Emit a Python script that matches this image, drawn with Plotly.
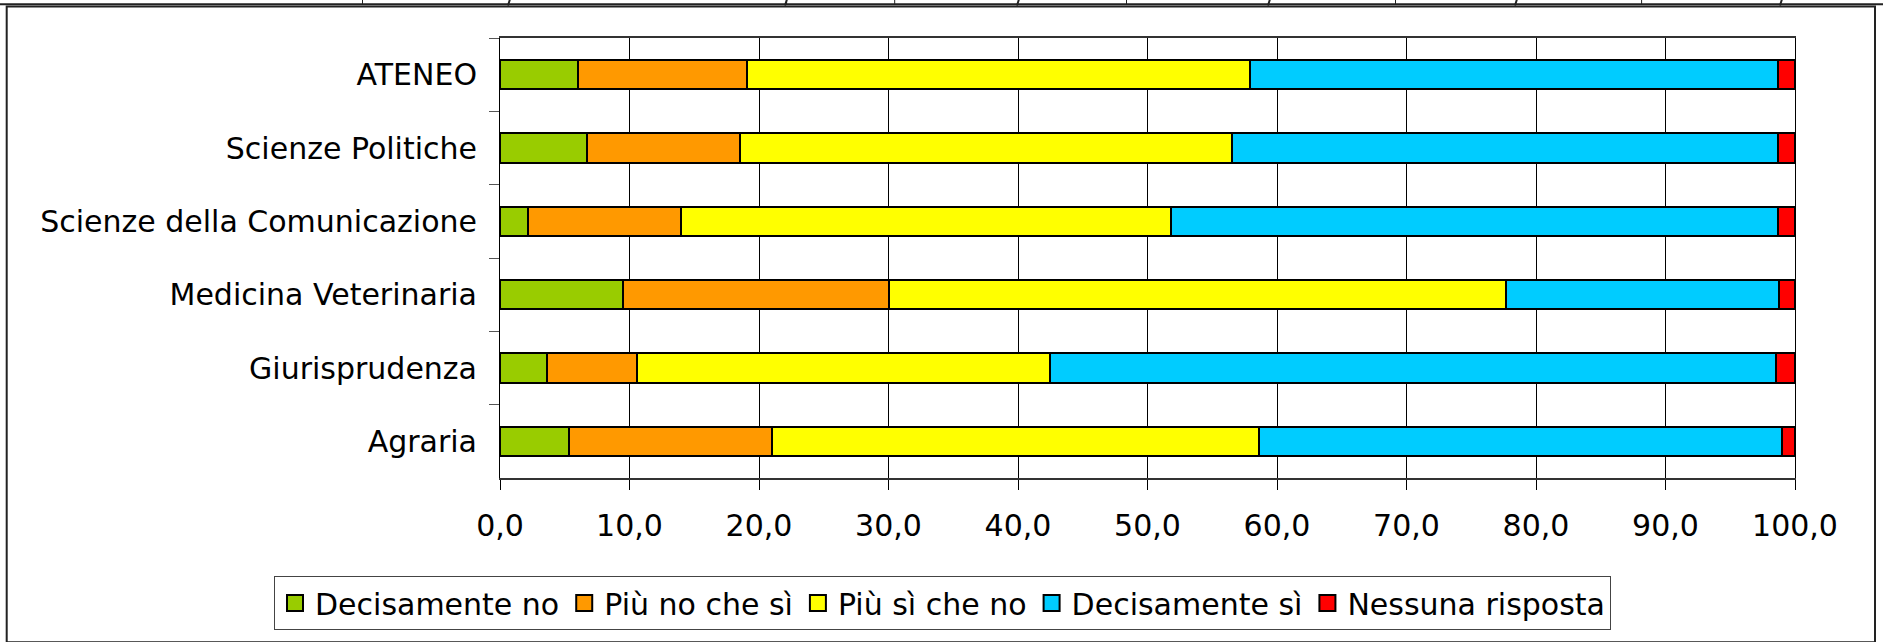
import plotly.graph_objects as go

categories = ["ATENEO", "Scienze Politiche", "Scienze della Comunicazione",
              "Medicina Veterinaria", "Giurisprudenza", "Agraria"]
series_names = ["Decisamente no", "Più no che sì", "Più sì che no",
                "Decisamente sì", "Nessuna risposta"]
decisamente_no = [6.0, 6.7, 2.2, 9.5, 3.6, 5.3]
piu_no_che_si = [13.1, 11.8, 11.8, 20.5, 7.0, 15.7]
piu_si_che_no = [38.8, 38.0, 37.8, 47.7, 31.9, 37.6]
decisamente_si = [40.8, 42.2, 46.9, 21.1, 56.0, 40.4]
nessuna_risposta = [1.3, 1.3, 1.3, 1.2, 1.5, 1.0]
colors = ["#99CC00", "#FF9900", "#FFFF00", "#00CCFF", "#FF0000"]
x_ticks = [0, 10, 20, 30, 40, 50, 60, 70, 80, 90, 100]

values = [decisamente_no, piu_no_che_si, piu_si_che_no, decisamente_si, nessuna_risposta]

W, H = 1883, 642
ML, MR, MT, MB = 500, 88, 38, 151
PW, PH = W - ML - MR, H - MT - MB

def px_x(px):
    return (px - ML) / PW

def px_y(py):
    return 1 - (py - MT) / PH

fig = go.Figure()
for name, vals, col in zip(series_names, values, colors):
    fig.add_trace(go.Bar(
        y=categories, x=vals, name=name, orientation="h",
        marker=dict(color=col, line=dict(color="#000000", width=2)),
        showlegend=False,
    ))
    fig.add_trace(go.Scatter(
        x=[None], y=[None], mode="markers", name=name,
        marker=dict(symbol="square", size=16, color=col,
                    line=dict(color="#000000", width=2)),
        showlegend=True,
    ))

FONT = "Verdana, DejaVu Sans, sans-serif"

shapes = []
# outer chart border
shapes.append(dict(type="rect", xref="paper", yref="paper",
                   x0=px_x(6.7), x1=px_x(1875), y0=px_y(660), y1=px_y(5.6),
                   line=dict(color="#222222", width=2), fillcolor="rgba(0,0,0,0)", layer="below"))
# top table fragment
shapes.append(dict(type="line", xref="paper", yref="paper",
                   x0=px_x(0), x1=px_x(1883), y0=px_y(3.3), y1=px_y(3.3),
                   line=dict(color="#222222", width=2)))
for vx in [362.5, 786.6, 894.7, 1126.5, 1395.5, 1641.6]:
    shapes.append(dict(type="line", xref="paper", yref="paper",
                       x0=px_x(vx), x1=px_x(vx), y0=px_y(-2), y1=px_y(3.3),
                       line=dict(color="#222222", width=1)))
for sx in [509, 786, 1018, 1269, 1516, 1781]:
    shapes.append(dict(type="line", xref="paper", yref="paper",
                       x0=px_x(sx + 1), x1=px_x(sx - 1), y0=px_y(-2), y1=px_y(4.5),
                       line=dict(color="#222222", width=2)))

fig.update_layout(
    width=W, height=H,
    margin=dict(l=ML, r=MR, t=MT, b=MB, pad=0),
    barmode="stack", bargap=0.603,
    paper_bgcolor="white", plot_bgcolor="white",
    separators=",.",
    font=dict(family=FONT, size=30, color="#000000"),
    xaxis=dict(range=[0, 100], tickvals=x_ticks, tickformat=".1f",
               showgrid=True, gridcolor="#000000", gridwidth=1,
               showline=True, linecolor="#333333", linewidth=2, mirror=True,
               ticks="outside", ticklen=10, tickcolor="#000000", tickwidth=1,
               ticklabelstandoff=10,
               tickfont=dict(family=FONT, size=30, color="#000000"),
               zeroline=False, fixedrange=True),
    yaxis=dict(autorange="reversed", type="category",
               showline=True, linecolor="#000000", linewidth=1, mirror=True,
               ticks="outside", ticklen=10, tickcolor="#555555", tickwidth=1,
               tickson="boundaries", ticklabelstandoff=16,
               showgrid=False, zeroline=False,
               tickfont=dict(family=FONT, size=30, color="#000000")),
    legend=dict(orientation="h", x=px_x(274), xanchor="left",
                y=px_y(592), yanchor="top", traceorder="normal",
                bordercolor="#444444", borderwidth=1, bgcolor="white",
                font=dict(family=FONT, size=30, color="#000000"),
                itemwidth=30, tracegroupgap=0),
    shapes=shapes,
)

fig.write_html("out.html", config={"displayModeBar": False},
               post_script="document.body.style.margin='0';")
